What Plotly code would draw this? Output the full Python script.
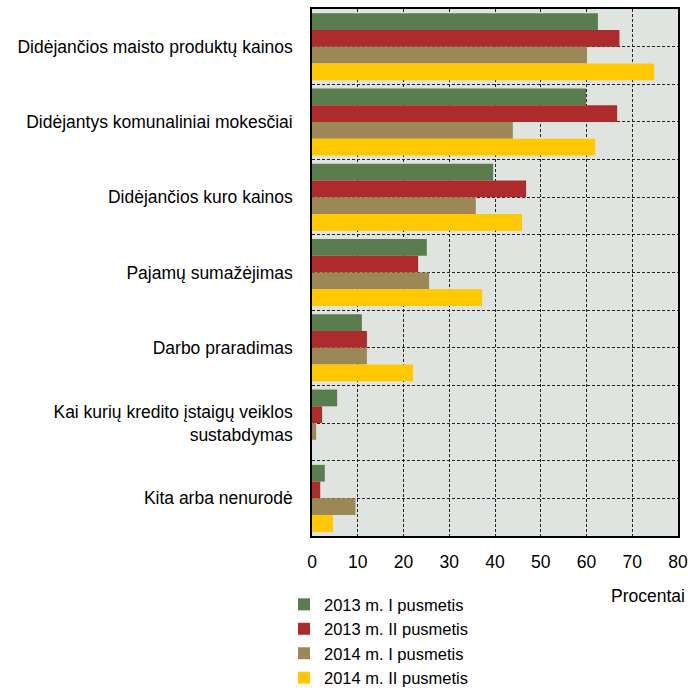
import plotly.graph_objects as go

categories = [
    "Didėjančios maisto produktų kainos",
    "Didėjantys komunaliniai mokesčiai",
    "Didėjančios kuro kainos",
    "Pajamų sumažėjimas",
    "Darbo praradimas",
    "Kai kurių kredito įstaigų veiklos<br>sustabdymas",
    "Kita arba nenurodė",
]
series_names = [
    "2013 m. I pusmetis",
    "2013 m. II pusmetis",
    "2014 m. I pusmetis",
    "2014 m. II pusmetis",
]
h1_2013 = [62.5, 59.9, 39.6, 25.1, 10.9, 5.5, 2.8]
h2_2013 = [67.2, 66.7, 46.8, 23.2, 12.0, 2.2, 1.8]
h1_2014 = [60.1, 43.9, 35.8, 25.6, 12.0, 0.9, 9.5]
h2_2014 = [74.8, 61.9, 45.9, 37.2, 22.1, 0.0, 4.6]

colors = ["#5a7d50", "#ae2b2d", "#9c8856", "#ffc800"]
font = "Liberation Sans, Arial, sans-serif"
grid = dict(showgrid=True, gridcolor="#222222", griddash="3px,2px", gridwidth=1)

positions = list(range(len(categories)))

fig = go.Figure()
for name, vals, col in zip(series_names, [h1_2013, h2_2013, h1_2014, h2_2014], colors):
    fig.add_bar(y=positions, x=vals, orientation="h", name=name,
                marker_color=col, marker_line_width=0)

fig.update_layout(
    width=688, height=688,
    margin=dict(l=312, r=10, t=9, b=152, autoexpand=False),
    barmode="group", bargap=0.11, bargroupgap=0,
    plot_bgcolor="#e0e4e0", paper_bgcolor="white",
    font=dict(family=font, size=17.5, color="black"),
    showlegend=True,
    legend=dict(x=-0.0765, xanchor="left", y=-0.097, yanchor="top",
                traceorder="normal", font=dict(size=16.5),
                itemwidth=30, tracegroupgap=0, bgcolor="rgba(0,0,0,0)"),
    annotations=[dict(text="Procentai", x=1.0246, xref="paper", xanchor="right",
                      y=-0.114, yref="paper", yanchor="middle",
                      showarrow=False, font=dict(size=17.5))],
)
fig.update_xaxes(
    range=[0, 80], dtick=10, **grid,
    showline=True, linecolor="black", linewidth=1.5, mirror=True,
    ticks="", zeroline=False, ticklabelstandoff=9,
)
fig.update_yaxes(
    range=[6.5, -0.5], tickvals=positions, ticktext=categories, **grid,
    minor=dict(tickvals=[p + 0.5 for p in positions[:-1]], **grid),
    showline=True, linecolor="black", linewidth=1.5, mirror=True,
    ticks="", zeroline=False, ticklabelstandoff=14,
)

# drop the default 8px page margin so the figure fills the window exactly
fig.write_html("out.html", config={"displayModeBar": False},
               post_script="document.body.style.margin='0px';")
